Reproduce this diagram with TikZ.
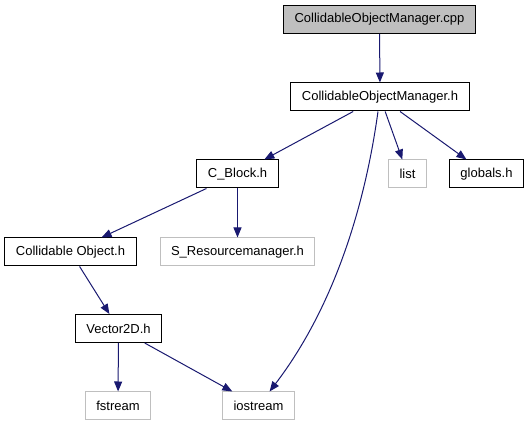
\documentclass[tikz,border=0pt]{standalone}
\usepackage{fontspec}
\setmainfont{Liberation Sans}
\usepackage{tikz}
\usetikzlibrary{arrows.meta}

\definecolor{edgeblue}{RGB}{25,25,112}
\definecolor{boxgray}{RGB}{191,191,191}

\begin{document}
\begin{tikzpicture}[
    x=1pt, y=-1pt,
    header/.style={rectangle, draw=black, line width=1pt, fill=white,
                   minimum height=28pt, inner xsep=11pt, inner ysep=0pt,
                   font=\fontsize{13}{15}\selectfont},
    sysfile/.style={header, draw=boxgray},
    current/.style={header, fill=boxgray},
    edge/.style={-{Triangle[length=10pt,width=8pt]}, edgeblue, line width=1pt}
]
\useasboundingbox (0,0) rectangle (531,427);

\node[current] (cppfile) at (379.5,19.5) {CollidableObjectManager.cpp};
\node[header] (mgr) at (380,97) {CollidableObjectManager.h};
\node[header] (cblock) at (237.5,174) {C\_Block.h};
\node[sysfile] (list) at (407.5,174) {list};
\node[header] (globals) at (486.5,174) {globals.h};
\node[header] (collobj) at (70.5,252) {Collidable Object.h};
\node[sysfile] (resmgr) at (237.5,252) {S\_Resourcemanager.h};
\node[header] (vec2d) at (118.5,328.5) {Vector2D.h};
\node[sysfile] (fstream) at (118,406) {fstream};
\node[sysfile] (iostream) at (258.5,406) {iostream};

\draw[edge] (cppfile) -- (mgr);
\draw[edge] (mgr) -- (cblock);
\draw[edge] (mgr) .. controls (363,220) and (328,315) .. (iostream);
\draw[edge] (mgr) -- (list);
\draw[edge] (mgr) -- (globals);
\draw[edge] (cblock) -- (collobj);
\draw[edge] (cblock) -- (resmgr);
\draw[edge] (collobj) -- (vec2d);
\draw[edge] (vec2d) -- (fstream);
\draw[edge] (vec2d) -- (iostream);
\end{tikzpicture}
\end{document}
